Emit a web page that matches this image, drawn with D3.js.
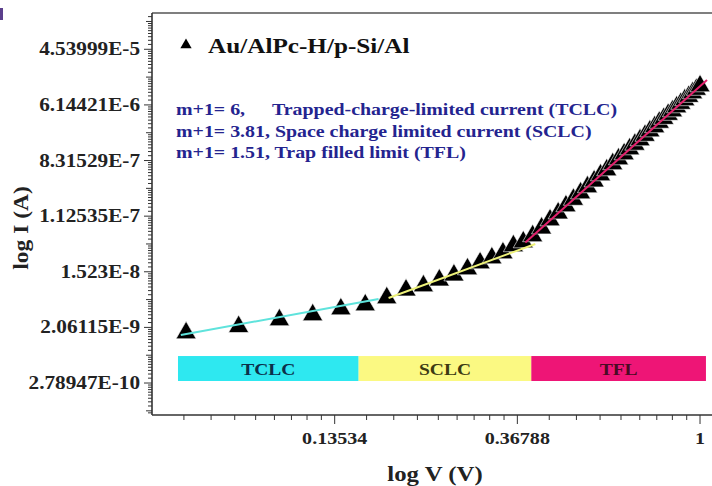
<!DOCTYPE html>
<html><head><meta charset="utf-8">
<script src="https://cdn.jsdelivr.net/npm/d3@7"></script>
<style>
html,body{margin:0;padding:0;background:#fff;}
svg{display:block;font-family:"Liberation Serif","Times New Roman",serif;font-weight:bold;}
</style></head>
<body><svg id="c" width="712" height="486"></svg>
<script>
// ---- data ----
const voltage = [0.06,0.08,0.10,0.12,0.14,0.16,0.18,0.20,0.22,0.24,0.26,0.28,0.30,0.32,0.34,0.36,0.38,0.40,0.42,0.44,0.46,0.48,0.50,0.52,0.54,0.56,0.58,0.60,0.62,0.64,0.66,0.68,0.70,0.72,0.74,0.76,0.78,0.80,0.82,0.84,0.86,0.88,0.90,0.92,0.94,0.96,0.98,1.00];
const current = [1.687e-9,2.113e-9,2.700e-9,3.232e-9,3.988e-9,4.610e-9,5.949e-9,7.872e-9,9.146e-9,1.128e-8,1.351e-8,1.683e-8,2.087e-8,2.498e-8,2.991e-8,3.860e-8,4.441e-8,5.532e-8,7.320e-8,9.784e-8,1.256e-7,1.621e-7,2.050e-7,2.581e-7,3.216e-7,3.967e-7,4.943e-7,5.919e-7,7.375e-7,8.786e-7,1.052e-6,1.259e-6,1.485e-6,1.743e-6,2.045e-6,2.400e-6,2.788e-6,3.272e-6,3.764e-6,4.351e-6,4.931e-6,5.700e-6,6.459e-6,7.355e-6,8.294e-6,9.445e-6,1.070e-5,1.213e-5];
// fitted lines (end points)
const fitNames = ["TCLC","SCLC","TFL"];
const fitV = [[0.0583,0.1721],[0.1818,0.4059],[0.3843,1.039]];
const fitI = [[1.569e-9,5.722e-9],[5.932e-9,4.14e-8],[4.379e-8,1.505e-5]];
// region bands
const regionNames = ["TCLC","SCLC","TFL"];
const regionEdgesV = [0.0574,0.1543,0.3971,1.033];
const bandI = [3.0e-10,7.36e-10];
// axis ticks
const xTickValues = [0.13534,0.36788,1];
const xTickLabels = ["0.13534","0.36788","1"];
const yTickValues = [4.53999e-5,6.14421e-6,8.31529e-7,1.12535e-7,1.523e-8,2.06115e-9,2.78947e-10];
const yTickLabels = ["4.53999E-5","6.14421E-6","8.31529E-7","1.12535E-7","1.523E-8","2.06115E-9","2.78947E-10"];
const seriesName = "Au/AlPc-H/p-Si/Al";
const notes = [["m+1= 6,","Trapped-charge-limited current (TCLC)"],["m+1= 3.81, Space charge limited current (SCLC)",""],["m+1= 1.51, Trap filled limit (TFL)",""]];

// ---- layout ----
const L=152, R=712, T=13, B=415;
const x = d3.scaleLog().base(Math.E).domain([Math.exp(-3), Math.exp(0.0656)]).range([L,R]);
const y = d3.scaleLog().base(Math.E).domain([Math.exp(-23.15), Math.exp(-8.695)]).range([B,T]);
const svg = d3.select("#c");
const SX = 1.18; // wide type

function txt(g, px, py, s, size, anchor, fill, sx){
  return g.append("text").attr("transform",`translate(${px},${py}) scale(${sx||SX},1)`)
    .attr("text-anchor",anchor||"start").attr("font-size",size).attr("fill",fill||"#222").text(s);
}

svg.append("rect").attr("x",0).attr("y",8).attr("width",3).attr("height",12).attr("fill","#5b3f8c");

// bands
const bandFill = ["#2ee8f0","#fbf982","#ee1576"];
const bandText = ["#0c2f4a","#3d3a12","#4a0b24"];
const bands = svg.append("g");
regionNames.forEach((n,i)=>{
  const x0=x(regionEdgesV[i]), x1=x(regionEdgesV[i+1]);
  bands.append("rect").attr("x",x0).attr("y",y(bandI[1])).attr("width",x1-x0).attr("height",y(bandI[0])-y(bandI[1])).attr("fill",bandFill[i]);
  txt(bands,(x0+x1)/2,(y(bandI[0])+y(bandI[1]))/2+6,n,17,"middle",bandText[i],1.15);
});

// axes
const ax = svg.append("g").attr("stroke","#333").attr("fill","none");
ax.append("line").attr("x1",L).attr("x2",R).attr("y1",T).attr("y2",T).attr("stroke-width",1.6).attr("stroke","#555");
ax.append("line").attr("x1",L).attr("x2",L).attr("y1",T).attr("y2",B).attr("stroke-width",1.6);
ax.append("line").attr("x1",L).attr("x2",R).attr("y1",B).attr("y2",B).attr("stroke-width",1.6);

// minor ticks (log base e, 8 per e-decade)
for(let k=-24;k<=0;k++){
  const base=Math.exp(k), step=(Math.exp(k+1)-Math.exp(k))/9;
  for(let n=0;n<9;n++){
    const v=base+n*step;
    const len = n===0 ? (k%2===0?8:6) : 4;
    const yy=y(v);
    if(yy>=T&&yy<=B) ax.append("line").attr("x1",L-len).attr("x2",L).attr("y1",yy).attr("y2",yy).attr("stroke-width",1);
    const xx=x(v);
    if(k>=-3 && xx>L+1 && xx<=R) ax.append("line").attr("x1",xx).attr("x2",xx).attr("y1",B).attr("y2",B+(n===0?9:5)).attr("stroke-width",1);
  }
}
// tick labels
const yl = svg.append("g");
yTickValues.forEach((d,i)=>txt(yl,L-12,y(d)+6,yTickLabels[i],18,"end","#222",1.18));
const xl = svg.append("g");
xTickValues.forEach((d,i)=>txt(xl,x(d),B+29,xTickLabels[i],17,"middle","#222",1.18));

// axis titles
svg.append("text").attr("transform",`translate(28,228) rotate(-90) scale(1.12,1)`).attr("text-anchor","middle").attr("font-size",21).attr("fill","#222").text("log I (A)");
txt(svg,435,481,"log V (V)",21,"middle","#222",1.18);

// data points
const tri = d3.symbol().type(d3.symbolTriangle).size(175);
svg.append("g").selectAll("path").data(voltage).join("path")
  .attr("transform",(d,i)=>`translate(${x(d)},${y(current[i])})`).attr("d",tri)
  .attr("fill","#000").attr("stroke","#fff").attr("stroke-width",0.6);

// fit lines
const fitColor = ["#5fe3dc","#eef27a","#e3206c"];
fitNames.forEach((n,i)=>{
  svg.append("line").attr("x1",x(fitV[i][0])).attr("y1",y(fitI[i][0])).attr("x2",x(fitV[i][1])).attr("y2",y(fitI[i][1]))
    .attr("stroke",fitColor[i]).attr("stroke-width",2);
});

// legend
svg.append("path").attr("transform","translate(186,45)").attr("d",d3.symbol().type(d3.symbolTriangle).size(55)).attr("fill","#000");
txt(svg,208,53,seriesName,21,"start","#111",1.2);

// notes
const ng = svg.append("g");
notes.forEach((n,i)=>{
  txt(ng,176,115+i*21.5,n[0],17,"start","#24248f",1.17);
  if(n[1]) txt(ng,272,115+i*21.5,n[1],17,"start","#24248f",1.17);
});
</script></body></html>
